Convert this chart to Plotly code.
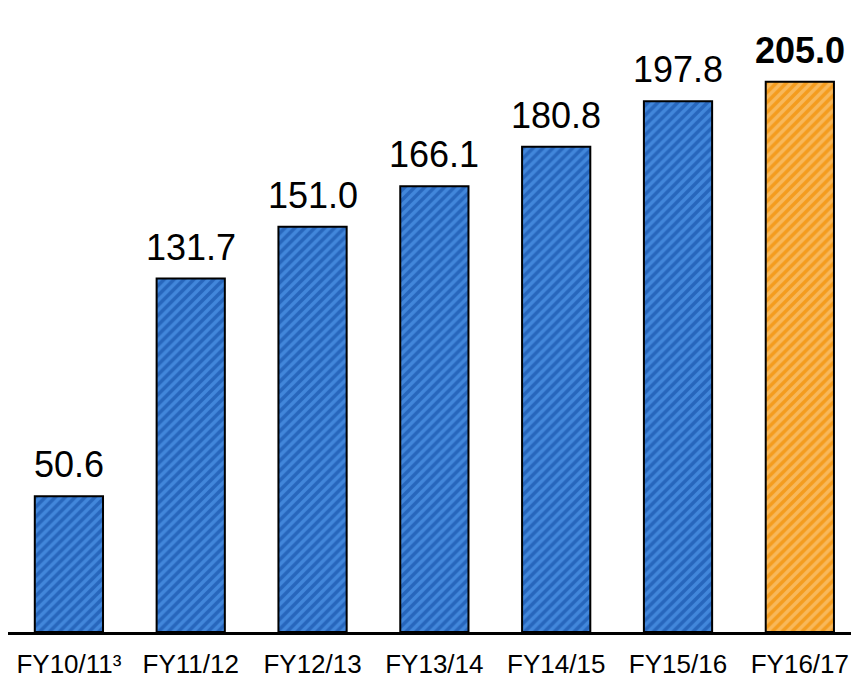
import plotly.graph_objects as go

categories = ["FY10/11³", "FY11/12", "FY12/13", "FY13/14", "FY14/15", "FY15/16", "FY16/17"]
values = [50.6, 131.7, 151.0, 166.1, 180.8, 197.8, 205.0]
labels = ["50.6", "131.7", "151.0", "166.1", "180.8", "197.8", "<b>205.0</b>"]
highlight = [False, False, False, False, False, False, True]

blue_bg, blue_fg = "#4287DB", "#2766BC"
orange_bg, orange_fg = "#F8B85A", "#F49C1E"

fig = go.Figure()
for hl, bgc, fgc in [(False, blue_bg, blue_fg), (True, orange_bg, orange_fg)]:
    xs = [c for c, h in zip(categories, highlight) if h == hl]
    ys = [v for v, h in zip(values, highlight) if h == hl]
    fig.add_trace(go.Bar(
        x=xs, y=ys, width=0.56, cliponaxis=False,
        marker=dict(
            color=bgc,
            line=dict(color="black", width=2),
            pattern=dict(shape="/", fgcolor=fgc, size=7, solidity=0.5,
                         fillmode="overlay", fgopacity=1),
        ),
    ))

for c, v, t in zip(categories, values, labels):
    fig.add_annotation(x=c, y=v, text=t, showarrow=False, yanchor="bottom",
                       yshift=9, font=dict(size=36, color="black"))

fig.update_layout(
    width=851, height=679,
    margin=dict(l=8, r=0, t=0, b=47),
    barmode="overlay",
    plot_bgcolor="white", paper_bgcolor="white",
    showlegend=False,
    font=dict(family="Liberation Sans, Arial", color="black"),
    xaxis=dict(
        categoryorder="array", categoryarray=categories,
        range=[-0.5, 6.42], showline=True, linecolor="black", linewidth=3,
        ticks="outside", ticklen=7, tickcolor="rgba(0,0,0,0)", automargin=False,
        tickfont=dict(size=26, color="black"), showgrid=False,
    ),
    yaxis=dict(range=[0, 235.5], visible=False, showgrid=False, zeroline=False),
)

fig.write_html("out.html")
